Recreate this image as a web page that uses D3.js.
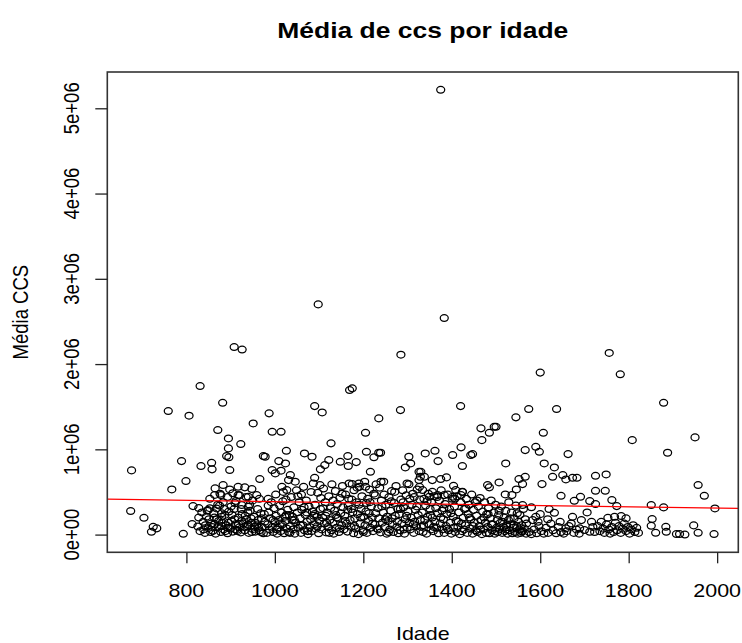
<!DOCTYPE html>
<html>
<head>
<meta charset="utf-8">
<script src="https://cdn.jsdelivr.net/npm/d3@7"></script>
<style>
body { margin: 0; background: #fff; }
</style>
</head>
<body>
<div id="chart"></div>
<script>
const titulo = "Média de ccs por idade";
const rotuloX = "Idade";
const rotuloY = "Média CCS";
const ticksX = [800, 1000, 1200, 1400, 1600, 1800, 2000];
const ticksY = [0, 1e6, 2e6, 3e6, 4e6, 5e6];

// [idade, média ccs em milhares]
const pontosAltos = [
  [1375, 5217], [1098, 2700], [1383, 2540], [908, 2200], [926, 2170],
  [1285, 2110], [1756, 2130], [1600, 1900], [1781, 1880]
];

const pontosMeio = [
  [831, 1742], [882, 1546], [759, 1449], [806, 1394], [951, 1304], [871, 1226],
  [895, 1128], [923, 1062], [895, 1011], [891, 921], [896, 906], [974, 921],
  [789, 862], [857, 842], [833, 804], [858, 765], [898, 757], [676, 753],
  [966, 651], [799, 628], [767, 530], [865, 542], [883, 581], [898, 530],
  [917, 561], [932, 554], [948, 534], [878, 463], [917, 463], [940, 443],
  [959, 463], [674, 276], [704, 197], [725, 91], [733, 73], [721, 33],
  [793, 9], [813, 123], [815, 334], [828, 311], [849, 287], [868, 307],
  [880, 249], [910, 369], [925, 346], [940, 326],
  [1169, 1695], [1175, 1715], [1090, 1507], [1107, 1433], [987, 1422], [1284, 1460],
  [1235, 1363], [994, 1206], [1014, 1206], [1205, 1194], [1127, 1070], [1026, 983],
  [978, 913], [1067, 952], [1084, 913], [1207, 971], [1224, 906], [1235, 960],
  [1239, 960], [1165, 921], [1148, 854], [1166, 804], [1184, 850], [1122, 874],
  [1113, 815], [1103, 765], [1303, 913], [1307, 835], [1295, 788], [1009, 862],
  [1024, 835], [994, 757], [1001, 718], [1014, 749], [1035, 698], [1031, 639],
  [1046, 620], [1090, 666], [1216, 737], [1326, 737], [1329, 678], [1326, 639],
  [1016, 561], [1027, 522], [1175, 592], [1190, 600], [1205, 561], [1246, 620],
  [1299, 600],
  [1420, 1507], [1574, 1472], [1637, 1472], [1545, 1375], [1466, 1246], [1496, 1264],
  [1500, 1264], [1485, 1194], [1468, 1108], [1607, 1194], [1340, 952], [1362, 983],
  [1369, 862], [1402, 933], [1421, 1023], [1443, 933], [1447, 944], [1424, 804],
  [1522, 835], [1566, 991], [1590, 1030], [1598, 971], [1609, 835], [1632, 788],
  [1628, 678], [1651, 698], [1658, 647], [1673, 666], [1663, 944], [1330, 737],
  [1338, 678], [1356, 639], [1375, 651], [1388, 671], [1481, 581], [1485, 554],
  [1507, 612], [1552, 651], [1566, 678], [1560, 592], [1546, 530], [1536, 463],
  [1521, 471], [1404, 572], [1409, 522], [1424, 502], [1421, 463], [1402, 443],
  [1334, 522], [1356, 502], [1368, 463], [1349, 443], [1383, 463], [1604, 592],
  [1647, 455], [1677, 396], [1560, 346],
  [1879, 1546], [1808, 1108], [1950, 1140], [1888, 960], [1957, 581], [1971, 455],
  [1691, 443], [1712, 393], [1725, 358], [1762, 405], [1773, 334], [1725, 690],
  [1749, 706], [1725, 514], [1747, 514], [1683, 666], [1851, 346], [1879, 319],
  [1995, 307]
];

const pontosBanda = [
  // 820-980
  [826, 95], [831, 40], [838, 150], [842, 20], [845, 210], [849, 75], [853, 310], [856, 130],
  [860, 45], [862, 250], [866, 10], [869, 180], [872, 90], [875, 340], [878, 30], [881, 140],
  [884, 60], [887, 230], [890, 110], [893, 15], [896, 270], [899, 70], [902, 160], [905, 35],
  [908, 300], [911, 120], [914, 55], [917, 200], [920, 85], [923, 25], [926, 240], [929, 130],
  [932, 50], [935, 180], [938, 95], [941, 20], [944, 280], [947, 140], [950, 65], [953, 210],
  [956, 35], [959, 110], [962, 170], [965, 50], [968, 250], [971, 90], [974, 15], [977, 150],
  [835, 260], [851, 180], [864, 120], [880, 210], [895, 140], [910, 60], [925, 160], [940, 110],
  [955, 140], [970, 190], [858, 90], [888, 40], [918, 120], [948, 30], [963, 80], [933, 220],
  [903, 230], [873, 160], [843, 110], [853, 420], [864, 465], [876, 480], [893, 440], [905, 485],
  [920, 460], [935, 440], [950, 400], [965, 420], [883, 380], [943, 350], [912, 395],
  [828, 200], [839, 60], [847, 280], [855, 30], [863, 200], [871, 350], [879, 100], [886, 300],
  [894, 80], [901, 330], [909, 180], [916, 40], [924, 300], [931, 90], [939, 260], [946, 190],
  [954, 90], [961, 300], [969, 30], [976, 240],
  // 980-1330
  [982, 20], [984, 120], [986, 260], [988, 60], [990, 190], [992, 380], [994, 90], [996, 30],
  [998, 310], [1000, 150], [1002, 470], [1003, 220], [1005, 10], [985, 420],
  [1007, 80], [1009, 170], [1011, 340], [1013, 40], [1015, 260], [1017, 120], [1019, 500],
  [1021, 15], [1023, 210], [1025, 410], [1027, 70], [1029, 290], [1012, 130], [1024, 160],
  [1031, 30], [1033, 230], [1035, 100], [1037, 440], [1039, 170], [1041, 60], [1043, 320],
  [1045, 10], [1047, 140], [1049, 520], [1051, 260], [1053, 80], [1055, 380], [1040, 210],
  [1057, 190], [1059, 20], [1061, 290], [1063, 110], [1065, 560], [1067, 50], [1069, 230],
  [1071, 400], [1073, 150], [1075, 5], [1077, 330], [1079, 90], [1060, 470], [1072, 260],
  [1081, 180], [1083, 40], [1085, 270], [1087, 600], [1089, 120], [1091, 350], [1093, 70],
  [1095, 210], [1097, 490], [1099, 15], [1101, 160], [1103, 300], [1104, 430], [1090, 240],
  [1106, 60], [1108, 200], [1110, 540], [1112, 130], [1114, 380], [1116, 25], [1118, 260],
  [1120, 90], [1122, 450], [1124, 170], [1126, 310], [1128, 50], [1129, 590], [1115, 220],
  [1131, 140], [1133, 10], [1135, 280], [1137, 510], [1139, 80], [1141, 360], [1143, 190],
  [1145, 30], [1147, 430], [1149, 250], [1151, 110], [1153, 570], [1154, 320], [1140, 200],
  [1156, 60], [1158, 220], [1160, 470], [1162, 130], [1164, 35], [1166, 340], [1168, 600],
  [1170, 170], [1172, 90], [1174, 410], [1176, 260], [1178, 15], [1179, 520], [1165, 290],
  [1181, 190], [1183, 70], [1185, 380], [1187, 240], [1189, 5], [1191, 560], [1193, 130],
  [1195, 300], [1197, 450], [1199, 50], [1201, 210], [1203, 620], [1204, 110], [1190, 350],
  [1206, 270], [1208, 20], [1210, 420], [1212, 160], [1214, 530], [1216, 80], [1218, 330],
  [1220, 200], [1222, 40], [1224, 480], [1226, 120], [1228, 250], [1229, 590], [1215, 380],
  [1231, 70], [1233, 310], [1235, 190], [1237, 550], [1239, 25], [1241, 400], [1243, 140],
  [1245, 260], [1247, 470], [1249, 90], [1251, 350], [1253, 10], [1254, 210], [1240, 620],
  [1256, 160], [1258, 440], [1260, 60], [1262, 280], [1264, 510], [1266, 120], [1268, 30],
  [1270, 370], [1272, 220], [1274, 570], [1276, 90], [1278, 300], [1279, 15], [1265, 190],
  [1281, 240], [1283, 50], [1285, 410], [1287, 130], [1289, 520], [1291, 320], [1293, 10],
  [1295, 180], [1297, 460], [1299, 80], [1301, 270], [1303, 590], [1304, 140], [1290, 380],
  [1306, 60], [1308, 200], [1310, 350], [1312, 480], [1314, 20], [1316, 150], [1318, 290],
  [1320, 100], [1322, 530], [1324, 230], [1326, 40], [1328, 410], [1329, 170], [1315, 440],
  [985, 340], [996, 170], [1004, 60], [1018, 390], [1026, 230], [1034, 20], [1044, 170],
  [1052, 450], [1058, 110], [1066, 320], [1074, 40], [1082, 500], [1088, 220], [1096, 100],
  [1102, 580], [1109, 310], [1117, 140], [1123, 20], [1132, 400], [1138, 230], [1146, 70],
  [1152, 480], [1159, 160], [1167, 420], [1173, 300], [1180, 100], [1186, 550], [1194, 200],
  [1200, 30], [1207, 370], [1213, 250], [1221, 130], [1227, 460], [1234, 60], [1242, 330],
  [1250, 180], [1257, 30], [1263, 390], [1271, 500], [1277, 150], [1284, 300], [1292, 60],
  [1298, 220], [1305, 420], [1313, 120], [1321, 330], [1327, 560],
  // 1330-1570
  [1331, 90], [1333, 260], [1335, 30], [1337, 420], [1339, 170], [1341, 340], [1343, 10],
  [1345, 210], [1347, 480], [1349, 120], [1351, 300], [1353, 60], [1354, 380],
  [1356, 200], [1358, 40], [1360, 450], [1362, 150], [1364, 310], [1366, 80], [1368, 250],
  [1370, 15], [1372, 400], [1374, 130], [1376, 520], [1378, 280], [1379, 60],
  [1381, 180], [1383, 20], [1385, 360], [1387, 100], [1389, 240], [1391, 470], [1393, 50],
  [1395, 300], [1397, 140], [1399, 10], [1401, 420], [1403, 210], [1404, 80],
  [1406, 330], [1408, 30], [1410, 160], [1412, 450], [1414, 90], [1416, 260], [1418, 5],
  [1420, 380], [1422, 130], [1424, 500], [1426, 200], [1428, 60], [1429, 300],
  [1431, 110], [1433, 420], [1435, 20], [1437, 240], [1439, 350], [1441, 70], [1443, 180],
  [1445, 470], [1447, 10], [1449, 290], [1451, 140], [1453, 380], [1454, 50],
  [1456, 220], [1458, 30], [1460, 330], [1462, 100], [1464, 430], [1466, 170], [1468, 5],
  [1470, 270], [1472, 60], [1474, 380], [1476, 140], [1478, 20], [1479, 240],
  [1481, 90], [1483, 310], [1485, 15], [1487, 190], [1489, 400], [1491, 50], [1493, 120],
  [1495, 260], [1497, 10], [1499, 350], [1501, 80], [1503, 170], [1504, 30],
  [1506, 230], [1508, 60], [1510, 140], [1512, 330], [1514, 20], [1516, 90], [1518, 200],
  [1520, 40], [1522, 280], [1524, 110], [1526, 10], [1528, 170], [1529, 380],
  [1531, 50], [1533, 120], [1535, 260], [1537, 15], [1539, 80], [1541, 190], [1543, 30],
  [1545, 340], [1547, 100], [1549, 10], [1551, 150], [1553, 60], [1554, 230],
  [1556, 20], [1558, 110], [1560, 40], [1562, 300], [1564, 70], [1566, 180], [1568, 10],
  [1569, 130],
  [1336, 110], [1344, 390], [1352, 230], [1359, 90], [1367, 440], [1375, 200], [1382, 310],
  [1390, 70], [1398, 250], [1407, 420], [1415, 150], [1423, 40], [1432, 310], [1440, 200],
  [1448, 100], [1457, 400], [1465, 60], [1473, 200], [1482, 240], [1490, 120], [1498, 40],
  [1507, 280], [1515, 150], [1523, 60], [1532, 190], [1540, 110], [1548, 250], [1557, 40],
  // 1570-2000
  [1590, 209], [1583, 170], [1632, 256], [1673, 209], [1670, 131], [1658, 73],
  [1575, 30], [1580, 5], [1586, 60], [1592, 15], [1597, 100], [1603, 40], [1608, 10],
  [1613, 80], [1618, 20], [1624, 130], [1629, 50], [1636, 15], [1641, 90], [1647, 30],
  [1653, 10], [1660, 40], [1665, 100], [1676, 20], [1682, 60], [1688, 10], [1595, 150],
  [1617, 180], [1645, 150], [1600, 240], [1620, 300], [1580, 320],
  [1689, 73], [1700, 53], [1712, 33], [1693, 170], [1706, 260],
  [1753, 197], [1768, 209], [1783, 217], [1794, 190],
  [1730, 100], [1735, 40], [1738, 150], [1742, 70], [1745, 20], [1750, 120], [1755, 60],
  [1758, 10], [1762, 90], [1766, 30], [1770, 140], [1774, 50], [1778, 100], [1782, 20],
  [1786, 70], [1790, 130], [1794, 40], [1798, 90], [1802, 10], [1806, 60], [1810, 110],
  [1814, 30], [1818, 80], [1822, 20], [1719, 90], [1723, 30], [1716, 150],
  [1853, 182], [1851, 103], [1884, 91], [1885, 33], [1861, 21], [1908, 6], [1915, 6],
  [1927, 1], [1947, 108], [1957, 21], [1993, 6]
];

// abline(lm(...)): intercepto e inclinação, em milhares
const reta = [463.4, -0.0764];

const W = 742, H = 643;
const area = { left: 107.3, right: 738.3, top: 72, bottom: 552.3 };
const esticar = 1.16; // a figura original foi esticada na horizontal

const dados = pontosAltos.concat(pontosMeio, pontosBanda)
  .map(d => ({ idade: d[0], ccs: d[1] * 1000 }));

// como o R: extensão dos dados + 4% de cada lado
const pad = e => { const s = e[1] - e[0]; return [e[0] - 0.04 * s, e[1] + 0.04 * s]; };

const x = d3.scaleLinear()
  .domain(pad(d3.extent(dados, d => d.idade)))
  .range([area.left, area.right]);
const y = d3.scaleLinear()
  .domain(pad(d3.extent(dados, d => d.ccs)))
  .range([area.bottom, area.top]);

const svg = d3.select("#chart").append("svg")
  .attr("width", W)
  .attr("height", H)
  .attr("font-family", "'Liberation Sans', Arial, sans-serif");

svg.append("defs").append("clipPath").attr("id", "clip")
  .append("rect")
  .attr("x", area.left).attr("y", area.top)
  .attr("width", area.right - area.left).attr("height", area.bottom - area.top);

const texto = (px, py, s, size, weight, rot) => svg.append("text")
  .attr("transform", `translate(${px},${py}) scale(${esticar},1)` + (rot ? " rotate(-90)" : ""))
  .attr("text-anchor", "middle")
  .attr("font-size", size)
  .attr("font-weight", weight || "normal")
  .attr("fill", "#000")
  .text(s);

// pontos
svg.append("g")
  .attr("fill", "none")
  .attr("stroke", "#000")
  .attr("stroke-width", 1.25)
  .selectAll("ellipse")
  .data(dados)
  .join("ellipse")
  .attr("cx", d => x(d.idade))
  .attr("cy", d => y(d.ccs))
  .attr("rx", 4.0)
  .attr("ry", 3.4);

// reta de regressão
const xd = x.domain();
svg.append("line")
  .attr("clip-path", "url(#clip)")
  .attr("x1", x(xd[0])).attr("y1", y((reta[0] + reta[1] * xd[0]) * 1000))
  .attr("x2", x(xd[1])).attr("y2", y((reta[0] + reta[1] * xd[1]) * 1000))
  .attr("stroke", "#ff0000")
  .attr("stroke-width", 1.3);

// caixa
svg.append("rect")
  .attr("x", area.left).attr("y", area.top)
  .attr("width", area.right - area.left).attr("height", area.bottom - area.top)
  .attr("fill", "none")
  .attr("stroke", "#333")
  .attr("stroke-width", 1.6);

// eixos
const eixoX = svg.append("g")
  .attr("transform", `translate(0,${area.bottom})`)
  .call(d3.axisBottom(x).tickValues(ticksX).tickSize(11).tickFormat(""));
const eixoY = svg.append("g")
  .attr("transform", `translate(${area.left},0)`)
  .call(d3.axisLeft(y).tickValues(ticksY).tickSize(12).tickFormat(""));
[eixoX, eixoY].forEach(g => {
  g.select(".domain").remove();
  g.selectAll("line").attr("stroke", "#222").attr("stroke-width", 1.3);
});

const fmtY = v => v === 0 ? "0e+00" : (v / 1e6) + "e+06";
ticksX.forEach(v => texto(x(v), 597, String(v), 18.5));
ticksY.forEach(v => texto(79, y(v), fmtY(v), 18.5, "normal", true));

texto((area.left + area.right) / 2, 38, titulo, 22.8, "bold");
texto((area.left + area.right) / 2, 640, rotuloX, 18.5);
texto(27.5, (area.top + area.bottom) / 2, rotuloY, 18.5, "normal", true);
</script>
</body>
</html>
